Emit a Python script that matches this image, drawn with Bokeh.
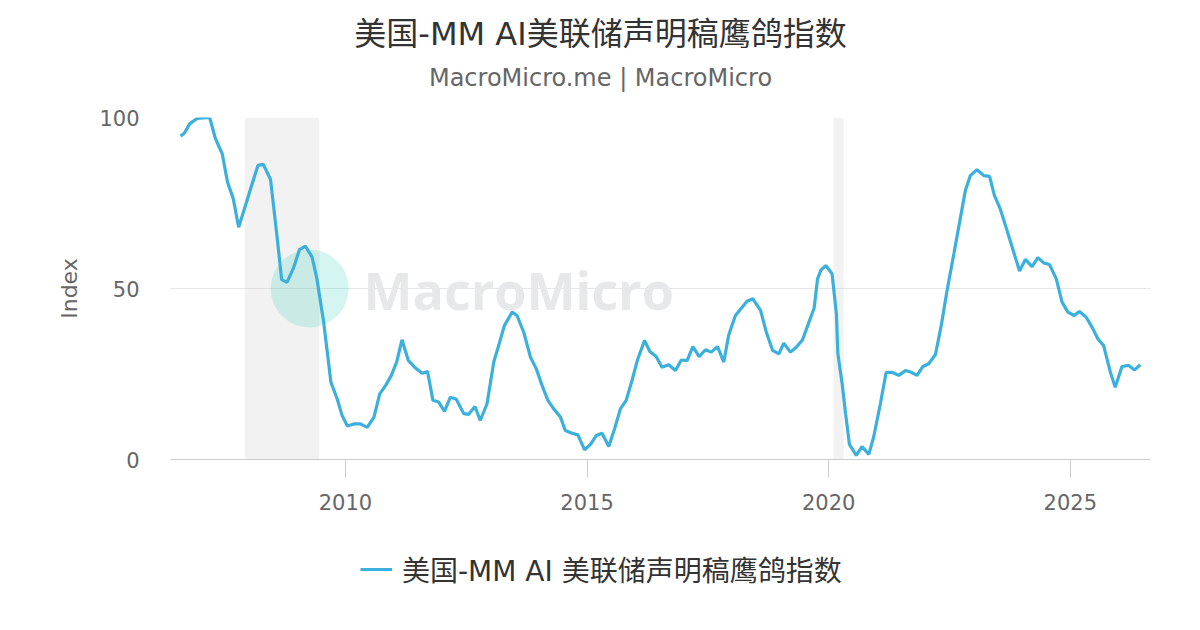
from bokeh.plotting import figure
from bokeh.layouts import column
from bokeh.models import Range1d, Label, BoxAnnotation, Legend, LegendItem, FixedTicker
from bokeh.embed import file_html
from bokeh.resources import INLINE

# FOMC statement dates (decimal years) and the hawk/dove index
years = [
    2006.59, 2006.67, 2006.78, 2006.93, 2007.06, 2007.19, 2007.31, 2007.45, 2007.56, 2007.68,
    2007.79, 2007.91, 2008.07, 2008.19, 2008.30, 2008.45, 2008.59, 2008.68, 2008.79, 2008.92,
    2009.05, 2009.17, 2009.31, 2009.41, 2009.55, 2009.70, 2009.83, 2009.93, 2010.04, 2010.17,
    2010.31, 2010.45, 2010.59, 2010.71, 2010.83, 2010.95, 2011.06, 2011.17, 2011.30, 2011.43,
    2011.59, 2011.70, 2011.81, 2011.93, 2012.05, 2012.17, 2012.29, 2012.45, 2012.55, 2012.68,
    2012.79, 2012.93, 2013.07, 2013.17, 2013.29, 2013.45, 2013.55, 2013.69, 2013.83, 2013.95,
    2014.07, 2014.19, 2014.31, 2014.45, 2014.55, 2014.69, 2014.81, 2014.95, 2015.07, 2015.19,
    2015.31, 2015.45, 2015.57, 2015.69, 2015.81, 2015.93, 2016.05, 2016.19, 2016.30, 2016.43,
    2016.55, 2016.69, 2016.83, 2016.95, 2017.07, 2017.19, 2017.32, 2017.45, 2017.57, 2017.70,
    2017.83, 2017.93, 2018.07, 2018.21, 2018.31, 2018.43, 2018.59, 2018.71, 2018.84, 2018.97,
    2019.07, 2019.21, 2019.33, 2019.46, 2019.59, 2019.70, 2019.77, 2019.84, 2019.94, 2020.07,
    2020.16, 2020.19, 2020.28, 2020.35, 2020.43, 2020.57, 2020.69, 2020.83, 2020.93, 2021.07,
    2021.19, 2021.31, 2021.45, 2021.59, 2021.71, 2021.83, 2021.95, 2022.07, 2022.21, 2022.33,
    2022.45, 2022.59, 2022.71, 2022.83, 2022.93, 2023.07, 2023.21, 2023.33, 2023.43, 2023.55,
    2023.69, 2023.83, 2023.95, 2024.07, 2024.21, 2024.33, 2024.45, 2024.57, 2024.71, 2024.83,
    2024.95, 2025.08, 2025.19, 2025.33, 2025.45, 2025.57, 2025.69, 2025.83, 2025.93, 2026.07,
    2026.21, 2026.33, 2026.45,
]
index_values = [
    94.5, 95.5, 98.2, 99.7, 99.9, 100.0, 93.8, 89.4, 81.1, 76.2,
    67.9, 73.3, 80.6, 86.0, 86.3, 81.9, 64.5, 52.6, 51.8, 55.8,
    61.4, 62.4, 59.2, 52.8, 40.1, 22.6, 17.7, 12.9, 9.8, 10.4,
    10.4, 9.4, 12.4, 19.2, 21.6, 24.6, 28.5, 35.0, 29.0, 27.0,
    25.2, 25.7, 17.3, 16.8, 14.1, 18.2, 17.7, 13.4, 13.2, 15.5,
    11.4, 16.3, 28.5, 33.3, 39.2, 43.1, 42.1, 37.2, 29.9, 26.5,
    21.6, 17.3, 14.8, 12.4, 8.5, 7.7, 7.2, 2.8, 4.4, 7.0,
    7.7, 3.8, 9.0, 14.8, 17.3, 23.1, 29.4, 34.8, 31.6, 30.1,
    27.0, 27.7, 26.0, 29.1, 28.9, 33.0, 30.1, 32.1, 31.4, 33.0,
    28.5, 36.3, 42.1, 44.5, 46.3, 47.0, 43.6, 37.2, 31.9, 30.9,
    34.0, 31.4, 32.8, 35.0, 40.1, 44.3, 52.8, 55.4, 56.7, 54.3,
    42.6, 31.0, 22.1, 13.4, 4.4, 1.2, 3.8, 1.5, 6.5, 16.3,
    25.5, 25.5, 24.6, 26.0, 25.5, 24.6, 27.2, 28.0, 30.7, 39.2,
    49.4, 60.1, 69.4, 78.7, 83.0, 84.7, 83.0, 82.8, 77.2, 73.3,
    67.0, 60.6, 55.1, 58.5, 56.4, 59.0, 57.5, 57.0, 52.8, 46.0,
    43.1, 42.1, 43.3, 41.6, 38.7, 35.3, 33.3, 25.5, 21.1, 27.2,
    27.5, 26.2, 27.7,
]

# US recessions (start, end)
recession_start = [2007.92, 2020.10]
recession_end = [2009.46, 2020.31]

x_ticks = [2010, 2015, 2020, 2025]
y_ticks = [0, 50, 100]

title_text = "美国-MM AI美联储声明稿鹰鸽指数"
subtitle_text = "MacroMicro.me | MacroMicro"
series_name = "美国-MM AI 美联储声明稿鹰鸽指数"

FONT = "'DejaVu Sans', 'Noto Sans CJK SC', sans-serif"
LINE_COLOR = "#3cb0dc"
X_RANGE = (2006.38, 2026.66)


def strip(height, y_range=(0, 1)):
    """Bare figure used for the title block and the legend row."""
    f = figure(width=1184, height=height, output_backend="svg", toolbar_location=None,
               x_range=Range1d(*X_RANGE), y_range=Range1d(*y_range),
               x_axis_location=None, y_axis_location=None, min_border=0)
    f.outline_line_color = None
    f.grid.visible = False
    f.title.visible = False
    return f


# title block
top = strip(100)
top.add_layout(Label(x=430, y=67, x_units="screen", y_units="screen", text=title_text,
                     text_font=FONT, text_font_size="32px", text_color="#333333",
                     text_align="center", text_baseline="middle"))
top.add_layout(Label(x=430, y=23, x_units="screen", y_units="screen", text=subtitle_text,
                     text_font=FONT, text_font_size="24px", text_color="#666666",
                     text_align="center", text_baseline="middle"))

# main chart
p = figure(width=1184, height=440, output_backend="svg", toolbar_location=None,
           x_range=Range1d(*X_RANGE), y_range=Range1d(0, 100),
           min_border_left=170, min_border_right=34,
           min_border_top=17, min_border_bottom=81)
p.outline_line_color = None
p.title.visible = False

p.xaxis.ticker = FixedTicker(ticks=x_ticks)
p.xaxis.axis_line_color = "#cccccc"
p.xaxis.major_tick_line_color = "#cccccc"
p.xaxis.major_tick_out = 18
p.xaxis.major_tick_in = 0
p.xaxis.minor_tick_line_color = None
p.xaxis.major_label_text_font = FONT
p.xaxis.major_label_text_font_size = "21px"
p.xaxis.major_label_text_color = "#666666"
p.xaxis.major_label_standoff = 16

p.yaxis.ticker = FixedTicker(ticks=y_ticks)
p.yaxis.axis_line_color = None
p.yaxis.major_tick_line_color = None
p.yaxis.major_tick_out = 0
p.yaxis.major_tick_in = 0
p.yaxis.minor_tick_line_color = None
p.yaxis.major_label_text_font = FONT
p.yaxis.major_label_text_font_size = "21px"
p.yaxis.major_label_text_color = "#666666"
p.yaxis.major_label_standoff = 31
p.yaxis.axis_label = "Index"
p.yaxis.axis_label_text_font = FONT
p.yaxis.axis_label_text_font_size = "22px"
p.yaxis.axis_label_text_font_style = "normal"
p.yaxis.axis_label_text_color = "#666666"
p.yaxis.axis_label_standoff = 14

p.xgrid.grid_line_color = None
p.ygrid.ticker = FixedTicker(ticks=y_ticks)
p.ygrid.grid_line_color = "#e6e6e6"

# recession bands
for s, e in zip(recession_start, recession_end):
    p.add_layout(BoxAnnotation(left=s, right=e, fill_color="#c8c8c8", fill_alpha=0.24,
                               line_color=None, level="underlay"))

# watermark
p.add_layout(Label(x=193, y=170, x_units="screen", y_units="screen", text="MacroMicro",
                   text_font="Open Sans", text_font_style="bold", text_font_size="52px",
                   text_color="#e7e8e9", text_baseline="middle", level="underlay"))
p.scatter(x=[2009.26], y=[50], size=78, marker="circle", fill_color="#2fcfb4",
          fill_alpha=0.2, line_color=None)

line = p.line(years, index_values, line_color=LINE_COLOR, line_width=3.2)

# legend row (its line sits outside the visible range; only the legend shows)
lf = strip(74, y_range=(-1000, -999))
sample = lf.line(years, index_values, line_color=LINE_COLOR, line_width=3.2)
legend = Legend(items=[LegendItem(label=series_name, renderers=[sample])],
                location=(190, 25), orientation="horizontal",
                glyph_width=32, glyph_height=20, label_standoff=10,
                label_text_font=FONT, label_text_font_size="28px",
                label_text_color="#333333", padding=0, margin=0,
                border_line_color=None, background_fill_alpha=0)
lf.add_layout(legend, "center")

page = column(top, p, lf, spacing=0)

open("out.html", "w").write(file_html(page, INLINE))
